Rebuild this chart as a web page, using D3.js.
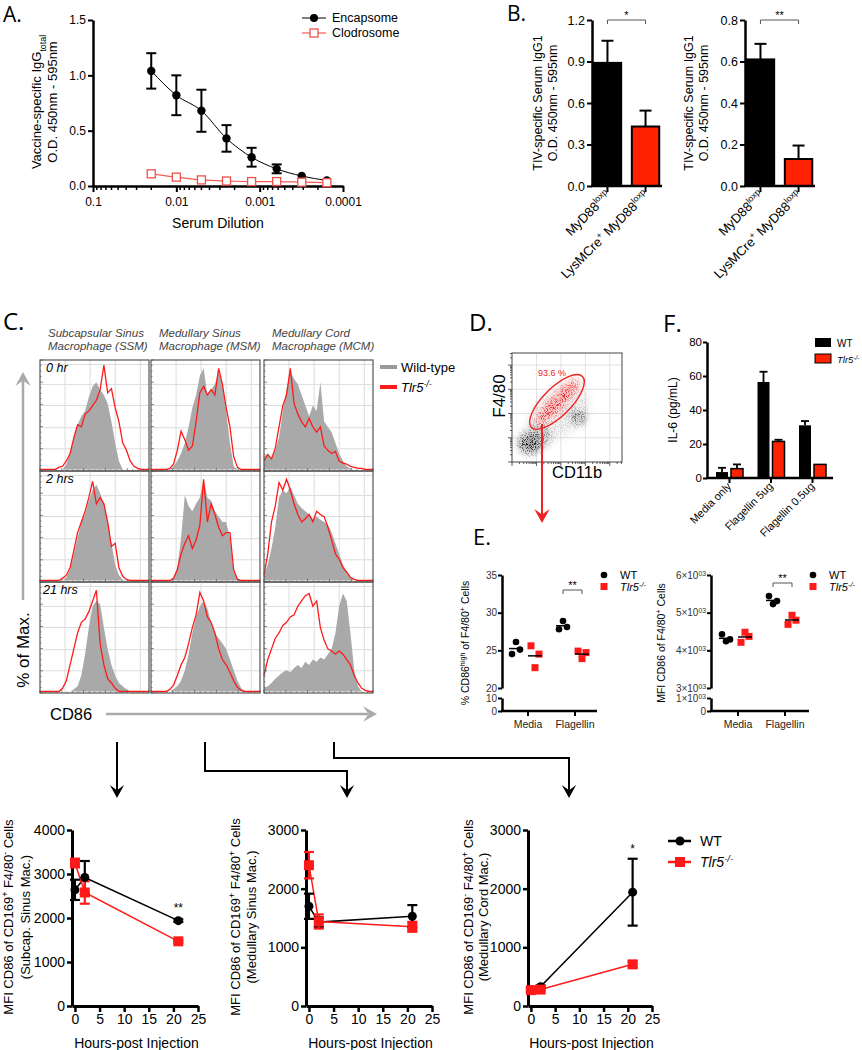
<!DOCTYPE html>
<html>
<head>
<meta charset="utf-8">
<script src="https://cdn.jsdelivr.net/npm/d3@7/dist/d3.min.js"></script>
<style>
  body { margin: 0; background: #fff; }
  svg { display: block; }
  text { font-family: "Liberation Sans", Arial, sans-serif; }
  .letter { font-family: "Open Sans", sans-serif; }
</style>
</head>
<body>
<svg id="fig" width="862" height="1050"></svg>
<script>
// ---------- data ----------
// A. vaccine-specific IgG vs serum dilution
var dilutions = [0.02, 0.01, 0.005, 0.0025, 0.00125, 0.000625, 0.0003125, 0.00015625];
var encapsome = [1.04, 0.82, 0.68, 0.43, 0.26, 0.155, 0.09, 0.05];
var encapsomeErr = [0.16, 0.18, 0.19, 0.12, 0.085, 0.04, 0, 0];
var clodrosome = [0.11, 0.08, 0.055, 0.045, 0.04, 0.04, 0.035, 0.03];
var aYTicks = [0, 0.5, 1, 1.5];
var aXTicks = [0.1, 0.01, 0.001, 0.0001];

// B. TIV-specific IgG1
var bGroups = ['loxp', 'cre'];
var bLeftMean = [0.89, 0.43], bLeftErr = [0.16, 0.115];
var bRightMean = [0.61, 0.13], bRightErr = [0.075, 0.065];
var bLeftTicks = [0, 0.3, 0.6, 0.9, 1.2];
var bRightTicks = [0, 0.2, 0.4, 0.6, 0.8];

// C. CD86 histograms (% of max, 30 bins)
var histColTop = ['Subcapsular Sinus', 'Medullary Sinus', 'Medullary Cord'];
var histColBottom = ['Macrophage (SSM)', 'Macrophage (MSM)', 'Macrophage (MCM)'];
var histRows = ['0 hr', '2 hrs', '21 hrs'];
var wt0SSM = [0,0,0,0,0,0,0,5,15,30,42,50,55,68,78,82,75,70,62,45,25,8,0,0,0,0,0,0,0,0];
var ko0SSM = [0,0,0,0,0,2,3,8,15,30,42,40,52,55,60,65,75,98,72,76,58,45,25,18,8,3,1,0,0,0];
var wt0MSM = [0,0,0,0,0,0,3,8,15,25,40,58,70,88,95,70,75,80,92,80,55,25,3,0,0,0,0,0,0,0];
var ko0MSM = [0,0,0,0,0,1,5,18,36,28,18,22,45,72,78,70,75,70,95,80,58,40,12,2,0,0,0,0,0,0];
var wt0MCM = [12,15,10,18,30,55,75,92,85,80,70,60,50,60,55,82,45,40,35,25,15,8,3,1,0,0,0,0,0,0];
var ko0MCM = [8,14,10,20,40,60,70,95,62,52,45,40,48,40,35,40,22,18,15,17,8,6,5,3,2,1,1,0,0,0];
var wt2SSM = [0,0,0,0,0,0,0,3,10,25,40,55,62,75,85,90,82,72,55,35,15,5,1,0,0,0,0,0,0,0];
var ko2SSM = [0,0,0,0,0,0,2,5,12,28,45,55,65,78,93,72,78,72,55,32,35,12,4,1,0,0,0,0,0,0];
var wt2MSM = [0,0,0,0,0,0,3,12,40,80,70,65,72,78,95,78,75,65,60,55,55,40,8,2,0,0,0,0,0,0];
var ko2MSM = [0,0,0,0,0,0,2,10,25,35,42,30,38,52,95,55,72,62,50,42,45,45,10,1,0,0,0,0,0,0];
var wt2MCM = [5,15,30,50,78,85,82,88,80,72,68,65,62,58,60,57,55,52,45,35,25,15,8,3,0,0,0,0,0,0];
var ko2MCM = [5,25,55,70,92,85,95,85,72,62,55,58,62,55,65,62,60,50,38,25,20,12,8,3,1,0,0,0,0,0];
var wt21SSM = [0,0,0,0,0,0,0,0,0,2,5,15,35,60,80,85,82,60,40,25,15,8,5,2,0,0,0,0,0,0];
var ko21SSM = [0,0,0,0,0,0,3,10,25,40,55,65,68,75,85,95,45,25,12,8,3,0,0,0,0,0,0,0,0,0];
var wt21MSM = [0,0,0,0,0,0,2,5,10,20,35,55,70,80,85,78,65,55,50,45,40,30,20,10,3,0,0,0,0,0];
var ko21MSM = [0,0,0,0,0,2,6,15,25,32,45,60,72,93,85,70,65,55,40,30,25,18,10,4,1,0,0,0,0,0];
var wt21MCM = [3,5,8,12,15,18,20,18,22,25,22,28,25,30,28,32,30,35,40,55,80,92,85,55,20,5,0,0,0,0];
var ko21MCM = [15,30,40,50,55,62,65,70,72,80,85,90,92,80,85,60,48,40,38,35,38,35,30,25,15,8,3,1,0,0];
var histWT = [[wt0SSM, wt0MSM, wt0MCM], [wt2SSM, wt2MSM, wt2MCM], [wt21SSM, wt21MSM, wt21MCM]];
var histKO = [[ko0SSM, ko0MSM, ko0MCM], [ko2SSM, ko2MSM, ko2MCM], [ko21SSM, ko21MSM, ko21MCM]];

// D. F4/80 vs CD11b populations (log decades)
var dPopCD11b = [1.9, 1.0, 0.72, 2.7, 1.85];
var dPopF480 = [2.0, 1.0, 0.75, 1.85, 2.45];
var dPopSdX = [1.4, 0.6, 0.42, 0.3, 1.25];
var dPopSdY = [0.9, 0.45, 0.36, 0.3, 0.3];
var dPopAngle = [-35, -20, 0, 0, -45];
var dGatePct = '93.6 %';

// E. CD86 on F4/80+ cells
var eGroups = ['Media', 'Flagellin'];
var eHighWT = [[24.5, 26.1, 25.1], [27.8, 28.9, 28.1]];
var eHighKO = [[25.6, 22.7, 24.5], [24.9, 23.9, 24.7]];
var eMfiWT = [[4427, 4240, 4290], [5440, 5227, 5307]];
var eMfiKO = [[4213, 4480, 4370], [4690, 4930, 4800]];

// F. IL-6
var fGroups = ['Media only', 'Flagellin 5ug', 'Flagellin 0.5ug'];
var fWT = [3.5, 56.5, 31], fWTErr = [2.5, 6, 2.5];
var fKO = [5.5, 21.5, 8], fKOErr = [2.5, 1, 0];
var fYTicks = [0, 20, 40, 60, 80];

// bottom: MFI CD86 over time
var hours = [0, 2, 21];
var timeTicks = [0, 5, 10, 15, 20, 25];
var ssmWT = [2640, 2920, 1940], ssmWTErr = [230, 375, 30];
var ssmKO = [3250, 2580, 1470], ssmKOErr = [100, 255, 30];
var msmWT = [1700, 1430, 1530], msmWTErr = [215, 80, 190];
var msmKO = [2400, 1440, 1350], msmKOErr = [225, 120, 85];
var mcmWT = [280, 330, 1940], mcmWTErr = [20, 20, 570];
var mcmKO = [270, 280, 710], mcmKOErr = [25, 25, 50];

// ---------- helpers ----------
var svg = d3.select('#fig');
var FONT = '"Liberation Sans", Arial, sans-serif';
var RED = '#ff2200';
var LRED = '#ff1a1a';

function fixAxis(g, fs, sw) {
  g.attr('font-family', FONT).attr('font-size', fs);
  g.select('.domain').attr('stroke-width', sw).attr('stroke', '#000');
  g.selectAll('.tick line').attr('stroke-width', Math.max(1, sw - 0.5)).attr('stroke', '#000');
  g.selectAll('.tick text').attr('fill', '#000');
  return g;
}

function rich(t, parts, fs) {
  parts.forEach(function(p) {
    var s = t.append('tspan').text(p[0]);
    if (p[1] && p[1].indexOf('sup') >= 0) s.attr('font-size', fs * 0.68).attr('baseline-shift', 'super');
    if (p[1] && p[1].indexOf('sub') >= 0) s.attr('font-size', fs * 0.68).attr('baseline-shift', 'sub');
    if (p[1] && p[1].indexOf('it') >= 0) s.style('font-style', 'italic');
  });
  return t;
}

function vLabel(x, y, parts, fs) {
  var t = svg.append('text')
    .attr('transform', 'translate(' + x + ',' + y + ') rotate(-90)')
    .attr('text-anchor', 'middle').attr('font-size', fs);
  return rich(t, parts, fs);
}

function hText(x, y, parts, fs, anchor) {
  var t = svg.append('text').attr('x', x).attr('y', y)
    .attr('font-size', fs).attr('text-anchor', anchor || 'start');
  return rich(t, parts, fs);
}

function letter(x, y, s, fs) {
  svg.append('text').attr('class', 'letter').attr('x', x).attr('y', y)
    .attr('font-size', fs).text(s);
}

function seg(x1, y1, x2, y2, color, sw) {
  return svg.append('line').attr('x1', x1).attr('y1', y1).attr('x2', x2).attr('y2', y2)
    .attr('stroke', color).attr('stroke-width', sw);
}

function errBar(x, y1, y2, half, color, sw, bothCaps) {
  seg(x, y1, x, y2, color, sw);
  seg(x - half, y2, x + half, y2, color, sw);
  if (bothCaps) seg(x - half, y1, x + half, y1, color, sw);
}

function bracket(x1, x2, y, stars) {
  svg.append('path').attr('d', 'M' + x1 + ',' + (y + 4) + 'V' + y + 'H' + x2 + 'V' + (y + 4))
    .attr('fill', 'none').attr('stroke', '#555').attr('stroke-width', 1);
  svg.append('text').attr('x', (x1 + x2) / 2).attr('y', y - 1).attr('text-anchor', 'middle')
    .attr('font-size', 11).text(stars);
}

function arrowHead(x, y, dir, color, s) {
  // dir: 'down' | 'up' | 'right'
  var d;
  if (dir === 'down') d = 'M' + (x - s * 0.55) + ',' + (y - s) + 'L' + x + ',' + y + 'L' + (x + s * 0.55) + ',' + (y - s) + 'L' + x + ',' + (y - s * 0.6) + 'Z';
  if (dir === 'up') d = 'M' + (x - s * 0.55) + ',' + (y + s) + 'L' + x + ',' + y + 'L' + (x + s * 0.55) + ',' + (y + s) + 'L' + x + ',' + (y + s * 0.6) + 'Z';
  if (dir === 'right') d = 'M' + (x - s) + ',' + (y - s * 0.55) + 'L' + x + ',' + y + 'L' + (x - s) + ',' + (y + s * 0.55) + 'L' + (x - s * 0.6) + ',' + y + 'Z';
  svg.append('path').attr('d', d).attr('fill', color);
}

// ---------- A ----------
letter(3, 22, 'A.', 21);
var xA = d3.scaleLog().domain([0.1, 0.0001]).range([93, 343]);
var yA = d3.scaleLinear().domain([0, 1.5]).range([186, 20]);
fixAxis(svg.append('g').attr('transform', 'translate(93,0)')
  .call(d3.axisLeft(yA).tickValues(aYTicks).tickFormat(d3.format('.1f')).tickSize(5).tickSizeOuter(0).tickPadding(2)), 12, 2.5);
var minorA = [];
[0.01, 0.001, 0.0001].forEach(function(d) { for (var k = 2; k < 10; k++) minorA.push(d * k); });
var gxA = svg.append('g').attr('transform', 'translate(0,186)');
gxA.selectAll('line.minor').data(minorA).enter().append('line').attr('class', 'minor')
  .attr('x1', function(d) { return xA(d); }).attr('x2', function(d) { return xA(d); })
  .attr('y1', 0).attr('y2', 4).attr('stroke', '#000').attr('stroke-width', 1.5);
fixAxis(gxA.append('g').call(d3.axisBottom(xA).tickValues(aXTicks).tickFormat(function(d) { return String(d); })
  .tickSize(6).tickSizeOuter(0).tickPadding(5)), 12, 2.5);

var lineA = d3.line().x(function(d, i) { return xA(dilutions[i]); }).y(function(d) { return yA(d); }).curve(d3.curveMonotoneX);
svg.append('path').attr('d', lineA(clodrosome)).attr('fill', 'none').attr('stroke', '#f25a55').attr('stroke-width', 1.2);
svg.append('path').attr('d', lineA(encapsome)).attr('fill', 'none').attr('stroke', '#000').attr('stroke-width', 1);
encapsome.forEach(function(v, i) {
  if (encapsomeErr[i] > 0) {
    var x = xA(dilutions[i]);
    errBar(x, yA(v - encapsomeErr[i]), yA(v + encapsomeErr[i]), 5, '#000', 2, true);
  }
});
svg.selectAll('circle.enc').data(encapsome).enter().append('circle').attr('class', 'enc')
  .attr('cx', function(d, i) { return xA(dilutions[i]); }).attr('cy', function(d) { return yA(d); })
  .attr('r', 4.2).attr('fill', '#000');
svg.selectAll('rect.clo').data(clodrosome).enter().append('rect').attr('class', 'clo')
  .attr('x', function(d, i) { return xA(dilutions[i]) - 4; }).attr('y', function(d) { return yA(d) - 4; })
  .attr('width', 8).attr('height', 8).attr('fill', '#fff').attr('stroke', '#f0504a').attr('stroke-width', 1.3);
vLabel(41, 102, [['Vaccine-specific IgG'], ['total', 'sub']], 13);
vLabel(57, 102, [['O.D. 450nm - 595nm']], 13);
hText(218, 228, [['Serum Dilution']], 14, 'middle');
seg(302, 18, 326, 18, '#000', 1);
svg.append('circle').attr('cx', 314).attr('cy', 18).attr('r', 4).attr('fill', '#000');
hText(332, 22, [['Encapsome']], 12.5);
seg(302, 33, 326, 33, '#f25a55', 1.2);
svg.append('rect').attr('x', 310).attr('y', 29).attr('width', 8).attr('height', 8)
  .attr('fill', '#fff').attr('stroke', '#f0504a').attr('stroke-width', 1.3);
hText(332, 37, [['Clodrosome']], 12.5);

// ---------- B ----------
letter(507, 21, 'B.', 21);
function drawB(mean, err, ticks, ax, xEnd, stars, labX) {
  var y = d3.scaleLinear().domain([0, ticks[ticks.length - 1]]).range([186, 20]);
  var x = d3.scaleBand().domain(bGroups).range([ax + 1, xEnd - 2]).paddingInner(0.28).paddingOuter(0.02);
  fixAxis(svg.append('g').attr('transform', 'translate(' + ax + ',0)')
    .call(d3.axisLeft(y).tickValues(ticks).tickFormat(d3.format('.1f')).tickSize(5).tickSizeOuter(0).tickPadding(2)), 12.5, 2.5);
  mean.forEach(function(v, i) {
    var cx = x(bGroups[i]) + x.bandwidth() / 2;
    errBar(cx, y(v), y(v + err[i]), 6, '#000', 2, false);
    svg.append('rect').attr('x', x(bGroups[i])).attr('y', y(v)).attr('width', x.bandwidth())
      .attr('height', y(0) - y(v)).attr('fill', i === 0 ? '#000' : RED)
      .attr('stroke', '#000').attr('stroke-width', 2);
    seg(cx, 186, cx, 192, '#000', 2);
  });
  seg(ax - 1, 186, xEnd, 186, '#000', 2.5);
  var c0 = x(bGroups[0]) + x.bandwidth() / 2, c1 = x(bGroups[1]) + x.bandwidth() / 2;
  bracket(c0, c1, 20, stars);
  var labels = [[['MyD88'], ['loxp', 'sup']], [['LysMCre'], ['+', 'sup'], [' MyD88'], ['loxp', 'sup']]];
  labels.forEach(function(parts, i) {
    var cx = x(bGroups[i]) + x.bandwidth() / 2 + 4;
    var t = svg.append('text').attr('transform', 'translate(' + cx + ',196) rotate(-45)')
      .attr('text-anchor', 'end').attr('font-size', 13);
    rich(t, parts, 13);
  });
  vLabel(labX[0], 103, [['TIV-specific Serum IgG1']], 12.5);
  vLabel(labX[1], 103, [['O.D. 450nm - 595nm']], 12.5);
}
drawB(bLeftMean, bLeftErr, bLeftTicks, 592, 662, '*', [542, 557]);
drawB(bRightMean, bRightErr, bRightTicks, 745, 815, '**', [693, 708]);

// ---------- C ----------
letter(3, 330, 'C.', 24);
var colX = [40, 151, 264], rowY = [360, 471, 582], pw = 109, ph = 111;
histColTop.forEach(function(s, c) {
  hText(colX[c] + 8, 337, [[s, 'it']], 11.5).attr('fill', '#444');
  hText(colX[c] + 8, 350, [[histColBottom[c], 'it']], 11.5).attr('fill', '#444');
});
histWT.forEach(function(row, r) {
  row.forEach(function(vals, c) {
    var x0 = colX[c], y0 = rowY[r];
    var hx = d3.scaleLinear().domain([0, vals.length - 1]).range([x0, x0 + pw]);
    var hy = d3.scaleLinear().domain([0, 100]).range([y0 + ph - 1.5, y0 + 3]);
    var g = svg.append('g');
    [0.23, 0.46, 0.69, 0.92].forEach(function(f) {
      g.append('line').attr('x1', x0 + pw * f).attr('x2', x0 + pw * f).attr('y1', y0).attr('y2', y0 + ph)
        .attr('stroke', '#dcdcdc').attr('stroke-width', 1);
    });
    [0.04, 0.22, 0.41, 0.61, 0.8].forEach(function(f) {
      g.append('line').attr('x1', x0).attr('x2', x0 + pw).attr('y1', y0 + ph * f).attr('y2', y0 + ph * f)
        .attr('stroke', '#dcdcdc').attr('stroke-width', 1);
    });
    g.append('path').datum(vals)
      .attr('d', d3.area().x(function(d, i) { return hx(i); }).y0(hy(0)).y1(function(d) { return hy(d); }))
      .attr('fill', '#a9a9a9');
    g.append('path').datum(histKO[r][c])
      .attr('d', d3.line().x(function(d, i) { return hx(i); }).y(function(d) { return hy(d); }))
      .attr('fill', 'none').attr('stroke', LRED).attr('stroke-width', 1.3);
    for (var k = 0; k <= 20; k++) {
      g.append('line').attr('x1', x0).attr('x2', x0 + (k % 4 === 0 ? 3 : 1.5))
        .attr('y1', y0 + ph * k / 20).attr('y2', y0 + ph * k / 20).attr('stroke', '#555').attr('stroke-width', 0.7);
      g.append('line').attr('y1', y0 + ph).attr('y2', y0 + ph - (k % 4 === 0 ? 3 : 1.5))
        .attr('x1', x0 + pw * k / 20).attr('x2', x0 + pw * k / 20).attr('stroke', '#555').attr('stroke-width', 0.7);
    }
    g.append('rect').attr('x', x0).attr('y', y0).attr('width', pw).attr('height', ph)
      .attr('fill', 'none').attr('stroke', '#555').attr('stroke-width', 1.2);
  });
});
histRows.forEach(function(s, r) {
  hText(r === 2 ? 43 : 46, rowY[r] + 12, [[s, 'it']], 12.5);
});
seg(380, 367, 397, 367, '#999', 4);
hText(401, 372, [['Wild-type']], 13);
seg(380, 387, 397, 387, LRED, 4);
hText(401, 392, [['Tlr5', 'it'], ['-/-', 'itsup']], 13);
// axis arrows
seg(23, 600, 23, 380, '#aaa', 2.5);
arrowHead(23, 372, 'up', '#aaa', 14);
hText(0, 0, [['% of Max.']], 17).attr('transform', 'translate(29,650) rotate(-90)').attr('text-anchor', 'middle');
hText(50, 720, [['CD86']], 16.5);
seg(106, 714, 368, 714, '#aaa', 2.5);
arrowHead(377, 714, 'right', '#aaa', 14);

// ---------- D ----------
letter(469, 331, 'D.', 24);
var xD = d3.scaleLinear().domain([0, 4.5]).range([512, 622]);
var yD = d3.scaleLinear().domain([0, 4.5]).range([462, 353]);
var defs = svg.append('defs');
defs.append('clipPath').attr('id', 'dclip').append('rect')
  .attr('x', 512).attr('y', 353).attr('width', 110).attr('height', 109);
var flt = defs.append('filter').attr('id', 'speckle').attr('x', '-50%').attr('y', '-50%').attr('width', '200%').attr('height', '200%');
flt.append('feGaussianBlur').attr('in', 'SourceGraphic').attr('stdDeviation', 3.5).attr('result', 'b');
flt.append('feTurbulence').attr('type', 'fractalNoise').attr('baseFrequency', 1.1).attr('numOctaves', 2).attr('seed', 4).attr('result', 'n');
flt.append('feColorMatrix').attr('in', 'n').attr('type', 'matrix')
  .attr('values', '0 0 0 0 0  0 0 0 0 0  0 0 0 0 0  6 0 0 0 -2.9').attr('result', 'm');
flt.append('feComposite').attr('in', 'b').attr('in2', 'm').attr('operator', 'in').attr('result', 'sp');
flt.append('feGaussianBlur').attr('in', 'SourceGraphic').attr('stdDeviation', 4).attr('result', 'soft');
flt.append('feComponentTransfer').attr('in', 'soft').attr('result', 'softer')
  .append('feFuncA').attr('type', 'linear').attr('slope', 0.35);
var mrg = flt.append('feMerge');
mrg.append('feMergeNode').attr('in', 'softer');
mrg.append('feMergeNode').attr('in', 'sp');
[1, 2, 3, 4].forEach(function(d) {
  seg(xD(d), 353, xD(d), 462, '#e2e2e2', 1);
  seg(512, yD(d), 622, yD(d), '#e2e2e2', 1);
});
var popColor = ['#aaa', '#555', '#000', '#333', '#ee1111'];
var popOpacity = [0.35, 0.75, 1, 0.9, 0.9];
var gD = svg.append('g').attr('clip-path', 'url(#dclip)').append('g').attr('filter', 'url(#speckle)');
dPopCD11b.forEach(function(v, i) {
  var cx = xD(v), cy = yD(dPopF480[i]);
  gD.append('ellipse').attr('cx', cx).attr('cy', cy)
    .attr('rx', xD(dPopSdX[i]) - xD(0)).attr('ry', yD(0) - yD(dPopSdY[i]))
    .attr('transform', 'rotate(' + dPopAngle[i] + ',' + cx + ',' + cy + ')')
    .attr('fill', popColor[i]).attr('fill-opacity', popOpacity[i]);
});
for (var dk = 0; dk < 5; dk++) {
  [1, 2, 3, 4, 5, 6, 7, 8, 9].forEach(function(m) {
    var v = dk + Math.log10(m);
    if (v > 4.5) return;
    var len = m === 1 ? 4 : 2;
    seg(512 - len, yD(v), 512, yD(v), '#333', 0.8);
    seg(xD(v), 462, xD(v), 462 + len, '#333', 0.8);
  });
}
svg.append('rect').attr('x', 512).attr('y', 353).attr('width', 110).attr('height', 109)
  .attr('fill', 'none').attr('stroke', '#444').attr('stroke-width', 1);
var gateCx = xD(1.84), gateCy = yD(2.48);
svg.append('ellipse').attr('cx', gateCx).attr('cy', gateCy).attr('rx', 36).attr('ry', 14)
  .attr('transform', 'rotate(-45,' + gateCx + ',' + gateCy + ')')
  .attr('fill', 'none').attr('stroke', '#ee2222').attr('stroke-width', 1.4);
hText(538, 376, [[dGatePct]], 9).attr('fill', '#ee2222');
vLabel(505, 396, [['F4/80']], 17);
hText(552, 478, [['CD11b']], 16.5);
seg(542, 424, 542, 515, '#ee2222', 2);
arrowHead(542, 523, 'down', '#ee2222', 14);

// ---------- F ----------
letter(663, 332, 'F.', 24);
var yF = d3.scaleLinear().domain([0, 80]).range([478, 342]);
var xF = d3.scalePoint().domain(fGroups).range([729, 812]);
var subF = d3.scaleBand().domain(['WT', 'KO']).range([-13, 14]).paddingInner(0.2);
fixAxis(svg.append('g').attr('transform', 'translate(707,0)')
  .call(d3.axisLeft(yF).tickValues(fYTicks).tickSize(4).tickSizeOuter(0).tickPadding(1)), 11.5, 2.5);
var gxF = svg.append('g').attr('transform', 'translate(0,478)').call(d3.axisBottom(xF).tickSize(5).tickFormat(''));
gxF.select('.domain').remove();
gxF.selectAll('.tick line').attr('stroke-width', 2);
fGroups.forEach(function(grp, i) {
  var bx = xF(grp);
  var xw = bx + subF('WT') + subF.bandwidth() / 2, xk = bx + subF('KO') + subF.bandwidth() / 2;
  if (fWTErr[i] > 0) errBar(xw, yF(fWT[i]), yF(fWT[i] + fWTErr[i]), 4, '#000', 1.8, false);
  if (fKOErr[i] > 0) errBar(xk, yF(fKO[i]), yF(fKO[i] + fKOErr[i]), 4, '#000', 1.8, false);
  svg.append('rect').attr('x', bx + subF('WT')).attr('y', yF(fWT[i])).attr('width', subF.bandwidth())
    .attr('height', yF(0) - yF(fWT[i])).attr('fill', '#000');
  svg.append('rect').attr('x', bx + subF('KO')).attr('y', yF(fKO[i])).attr('width', subF.bandwidth())
    .attr('height', yF(0) - yF(fKO[i])).attr('fill', RED).attr('stroke', '#000').attr('stroke-width', 1.5);
  svg.append('text').attr('transform', 'translate(' + (bx + 3) + ',487) rotate(-45)')
    .attr('text-anchor', 'end').attr('font-size', 11).text(grp);
});
seg(706, 478, 833, 478, '#000', 2.5);
vLabel(677, 410, [['IL-6 (pg/mL)']], 12);
svg.append('rect').attr('x', 815).attr('y', 338).attr('width', 16).attr('height', 9).attr('fill', '#000');
hText(837, 347, [['WT']], 10);
svg.append('rect').attr('x', 815).attr('y', 354).attr('width', 16).attr('height', 9)
  .attr('fill', RED).attr('stroke', '#000').attr('stroke-width', 1);
hText(837, 363, [['Tlr5', 'it'], ['-/-', 'itsup']], 9.5);

// ---------- E ----------
letter(473, 545, 'E.', 22);
function drawE(o) {
  var yTop = d3.scaleLinear().domain(o.topDom).range([688, 575]);
  var yBot = d3.scaleLinear().domain(o.botDom).range([711, 698]);
  var yv = function(v) { return v >= o.topDom[0] ? yTop(v) : yBot(v); };
  var x = d3.scalePoint().domain(eGroups).range(o.centers);
  var gt = fixAxis(svg.append('g').attr('transform', 'translate(' + o.ax + ',0)')
    .call(d3.axisLeft(yTop).tickValues(o.topTicks).tickSize(4).tickSizeOuter(0).tickPadding(1)), 10, 2.5);
  var gb = fixAxis(svg.append('g').attr('transform', 'translate(' + o.ax + ',0)')
    .call(d3.axisLeft(yBot).tickValues(o.botTicks).tickSize(4).tickSizeOuter(0).tickPadding(1)), 10, 2.5);
  [gt, gb].forEach(function(g) {
    g.selectAll('.tick text').attr('fill', '#333');
    if (o.sci) {
      g.selectAll('.tick text').each(function(d) {
        var t = d3.select(this);
        if (d === 0) return;
        t.text('');
        rich(t, [[(d / 1000) + '×10'], ['03', 'sup']], 10);
      });
    }
  });
  seg(o.ax - 1, 711, o.xEnd, 711, '#000', 2.5);
  eGroups.forEach(function(grp) {
    seg(x(grp), 711, x(grp), 716, '#000', 2);
    svg.append('text').attr('x', x(grp)).attr('y', 728).attr('text-anchor', 'middle')
      .attr('font-size', 10.5).attr('fill', '#222').text(grp);
  });
  function reps(vals, gi, off, isKO) {
    var cx = x(eGroups[gi]) + off;
    vals.forEach(function(v, k) {
      var px = cx + (k - 1) * 4;
      if (isKO) {
        svg.append('rect').attr('x', px - 3.5).attr('y', yv(v) - 3.5).attr('width', 7).attr('height', 7).attr('fill', LRED);
      } else {
        svg.append('circle').attr('cx', px).attr('cy', yv(v)).attr('r', 3.3).attr('fill', '#000');
      }
    });
    var m = d3.mean(vals);
    seg(cx - 7, yv(m), cx + 7, yv(m), '#000', 1.5);
  }
  o.wt.forEach(function(v, gi) { reps(v, gi, -12, false); });
  o.ko.forEach(function(v, gi) { reps(v, gi, 7, true); });
  bracket(x(eGroups[1]) - 12, x(eGroups[1]) + 7, o.brY, '**');
  svg.append('circle').attr('cx', o.legX).attr('cy', 575).attr('r', 3.3).attr('fill', '#000');
  hText(o.legX + 16, 579, [['WT']], 11);
  svg.append('rect').attr('x', o.legX - 3.5).attr('y', 583).attr('width', 7).attr('height', 7).attr('fill', LRED);
  hText(o.legX + 16, 591, [['Tlr5', 'it'], ['-/-', 'itsup']], 11);
}
drawE({ ax: 502, xEnd: 597, centers: [528, 575], topDom: [20, 35], botDom: [0, 10],
  topTicks: [20, 25, 30, 35], botTicks: [0, 10], wt: eHighWT, ko: eHighKO, sci: false, brY: 590, legX: 604 });
drawE({ ax: 711, xEnd: 809, centers: [738, 785], topDom: [3000, 6000], botDom: [0, 1000],
  topTicks: [3000, 4000, 5000, 6000], botTicks: [0, 1000], wt: eMfiWT, ko: eMfiKO, sci: true, brY: 583, legX: 813 });
vLabel(469, 643, [['% CD86'], ['high', 'sup'], [' of F4/80'], ['+', 'sup'], [' Cells']], 10.5);
vLabel(665, 643, [['MFI CD86 of F4/80'], ['+', 'sup'], [' Cells']], 10.5);

// ---------- connecting arrows ----------
seg(117, 742, 117, 790, '#000', 2);
arrowHead(117, 798, 'down', '#000', 13);
svg.append('path').attr('d', 'M205,742V771H347V790').attr('fill', 'none').attr('stroke', '#000').attr('stroke-width', 2);
arrowHead(347, 798, 'down', '#000', 13);
svg.append('path').attr('d', 'M334,742V758H569V790').attr('fill', 'none').attr('stroke', '#000').attr('stroke-width', 2);
arrowHead(569, 798, 'down', '#000', 13);

// ---------- bottom time courses ----------
function drawTime(o) {
  var x = d3.scaleLinear().domain([-0.6, 25]).range(o.xr);
  var y = d3.scaleLinear().domain([0, o.yMax]).range([1006, 830]);
  fixAxis(svg.append('g').attr('transform', 'translate(' + x(-0.6) + ',0)')
    .call(d3.axisLeft(y).ticks(o.yMax / 1000).tickFormat(d3.format('d')).tickSize(5).tickSizeOuter(0).tickPadding(2)), 14, 3);
  fixAxis(svg.append('g').attr('transform', 'translate(0,1006)')
    .call(d3.axisBottom(x).tickValues(timeTicks).tickSize(6).tickSizeOuter(0).tickPadding(2)), 14, 3);
  var line = d3.line().x(function(d, i) { return x(hours[i]); }).y(function(d) { return y(d); });
  svg.append('path').attr('d', line(o.wt)).attr('fill', 'none').attr('stroke', '#000').attr('stroke-width', 1.5);
  svg.append('path').attr('d', line(o.ko)).attr('fill', 'none').attr('stroke', LRED).attr('stroke-width', 1.5);
  o.wt.forEach(function(v, i) {
    errBar(x(hours[i]), y(v - o.wtErr[i]), y(v + o.wtErr[i]), 5, '#000', 2.2, true);
  });
  o.ko.forEach(function(v, i) {
    errBar(x(hours[i]), y(v - o.koErr[i]), y(v + o.koErr[i]), 5, LRED, 2.2, true);
  });
  o.wt.forEach(function(v, i) {
    svg.append('circle').attr('cx', x(hours[i])).attr('cy', y(v)).attr('r', 4.5).attr('fill', '#000');
  });
  o.ko.forEach(function(v, i) {
    svg.append('rect').attr('x', x(hours[i]) - 5).attr('y', y(v) - 5).attr('width', 10).attr('height', 10).attr('fill', LRED);
  });
  if (o.star) {
    svg.append('text').attr('x', x(21)).attr('y', o.starY).attr('text-anchor', 'middle')
      .attr('font-size', 12).text(o.star);
  }
  hText((x(0) + x(25)) / 2, 1048, [['Hours-post Injection']], 14, 'middle');
  vLabel(o.labX[0], 917, o.lab1, 13);
  vLabel(o.labX[1], 917, [[o.lab2]], 13);
}
drawTime({ xr: [72, 198], yMax: 4000, wt: ssmWT, wtErr: ssmWTErr, ko: ssmKO, koErr: ssmKOErr,
  star: '**', starY: 912, labX: [13, 30],
  lab1: [['MFI CD86 of CD169'], ['+', 'sup'], [' F4/80'], ['-', 'sup'], [' Cells']], lab2: '(Subcap. Sinus Mac.)' });
drawTime({ xr: [306, 432], yMax: 3000, wt: msmWT, wtErr: msmWTErr, ko: msmKO, koErr: msmKOErr,
  star: null, labX: [240, 256],
  lab1: [['MFI CD86 of CD169'], ['+', 'sup'], [' F4/80'], ['+', 'sup'], [' Cells']], lab2: '(Medullary Sinus Mac.)' });
drawTime({ xr: [528, 652], yMax: 3000, wt: mcmWT, wtErr: mcmWTErr, ko: mcmKO, koErr: mcmKOErr,
  star: '*', starY: 853, labX: [473, 488],
  lab1: [['MFI CD86 of CD169'], ['-', 'sup'], [' F4/80'], ['+', 'sup'], [' Cells']], lab2: '(Medullary Cord Mac.)' });
seg(668, 841, 691, 841, '#000', 2.5);
svg.append('circle').attr('cx', 680).attr('cy', 841).attr('r', 4.5).attr('fill', '#000');
hText(700, 846, [['WT']], 14);
seg(668, 862, 691, 862, LRED, 2.5);
svg.append('rect').attr('x', 675).attr('y', 857).attr('width', 10).attr('height', 10).attr('fill', LRED);
hText(700, 867, [['Tlr5', 'it'], ['-/-', 'itsup']], 14);
</script>
</body>
</html>
